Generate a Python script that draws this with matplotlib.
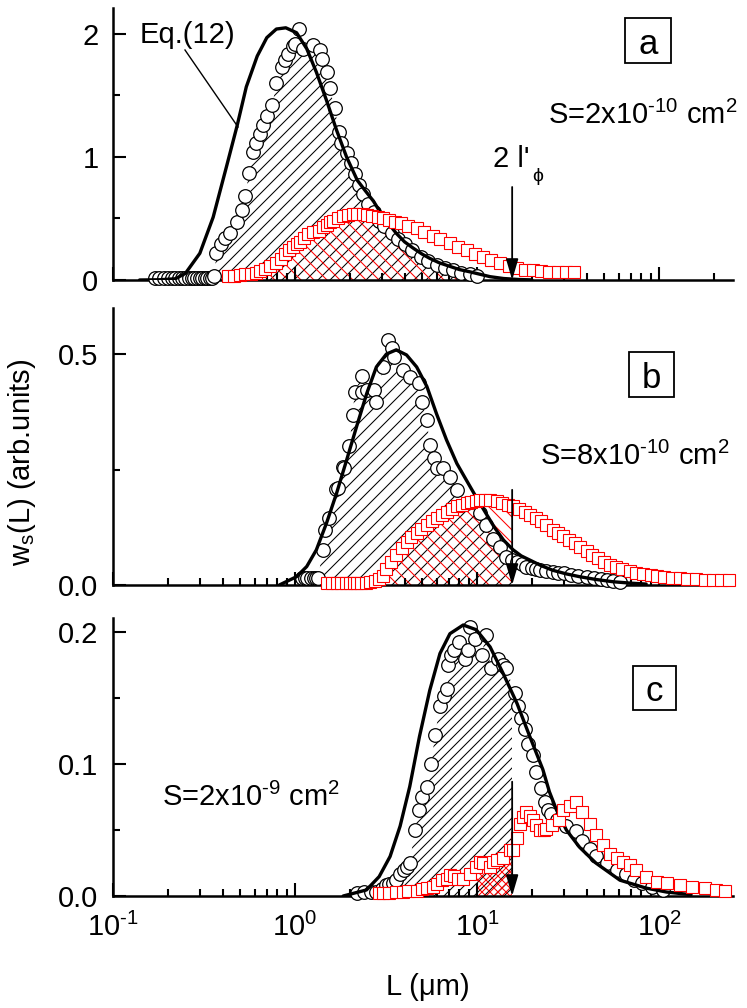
import numpy as np
import matplotlib
matplotlib.use('Agg')
import matplotlib.pyplot as plt
from matplotlib.patches import Rectangle
from matplotlib.lines import Line2D
from matplotlib.path import Path
from matplotlib.collections import LineCollection
from matplotlib.transforms import IdentityTransform, Bbox, TransformedBbox
from matplotlib.ticker import MultipleLocator, LogLocator, NullFormatter, FuncFormatter

plt.rcParams['font.family'] = ['Liberation Sans', 'DejaVu Sans']
plt.rcParams['mathtext.fontset'] = 'custom'
plt.rcParams['mathtext.rm'] = 'Liberation Sans'
plt.rcParams['mathtext.it'] = 'Liberation Sans:italic'
plt.rcParams['mathtext.default'] = 'regular'

# ---------------- data ----------------
L_arrow = 15.6  # 2 l'_phi position (um)

a_circ_L = [0.17, 0.18, 0.19, 0.20, 0.21, 0.22, 0.23, 0.24, 0.25, 0.26, 0.27, 0.28, 0.29, 0.30, 0.31, 0.32, 0.33, 0.34, 0.35, 0.36,
            0.37, 0.39, 0.41, 0.44, 0.48, 0.51, 0.53, 0.56, 0.59, 0.61, 0.64, 0.67, 0.70, 0.75, 0.79, 0.85, 0.88, 0.92, 0.97, 1.00,
            1.05, 1.10, 1.26, 1.38, 1.41, 1.49, 1.55, 1.65, 1.75, 1.80, 1.92, 2.02, 2.13, 2.25, 2.37, 2.53, 2.70, 2.90, 3.10, 3.40,
            3.70, 4.00, 4.40, 4.90, 5.40, 6.00, 6.70, 7.40, 8.20, 9.10, 10.0]
a_circ_v = [0.02, 0.02, 0.02, 0.02, 0.02, 0.02, 0.02, 0.02, 0.02, 0.02, 0.02, 0.02, 0.02, 0.02, 0.02, 0.02, 0.02, 0.02, 0.02, 0.03,
            0.22, 0.29, 0.34, 0.38, 0.47, 0.57, 0.68, 0.87, 1.04, 1.11, 1.19, 1.26, 1.33, 1.42, 1.60, 1.73, 1.79, 1.84, 1.90, 1.92,
            2.04, 1.88, 1.91, 1.87, 1.80, 1.69, 1.56, 1.40, 1.20, 1.11, 1.03, 0.95, 0.86, 0.77, 0.70, 0.62, 0.55, 0.48, 0.44, 0.38,
            0.33, 0.29, 0.24, 0.19, 0.155, 0.125, 0.10, 0.08, 0.06, 0.045, 0.03]
a_curve_L = [0.14, 0.18, 0.22, 0.25, 0.30, 0.355, 0.42, 0.48, 0.54, 0.62, 0.70, 0.79, 0.89, 1.02, 1.16, 1.31, 1.49, 1.69, 1.92,
             2.20, 2.45, 2.70, 2.93, 3.30, 3.60, 4.00, 4.45, 5.00, 5.50, 6.20, 6.80, 8.00, 9.10, 10.5, 11.8, 14.0, 17.0, 20.0]
a_curve_v = [0.0, 0.002, 0.01, 0.054, 0.217, 0.51, 0.92, 1.25, 1.57, 1.82, 1.97, 2.04, 2.05, 2.01, 1.88, 1.69, 1.46, 1.22, 1.00,
             0.81, 0.72, 0.64, 0.555, 0.45, 0.38, 0.31, 0.26, 0.21, 0.176, 0.14, 0.12, 0.085, 0.067, 0.045, 0.027, 0.012, 0.004, 0.001]
a_sq_L = [0.43, 0.46, 0.50, 0.53, 0.57, 0.61, 0.64, 0.68, 0.73, 0.79, 0.84, 0.88, 0.93, 0.98, 1.02, 1.06, 1.12, 1.18, 1.26, 1.35,
          1.42, 1.49, 1.55, 1.62, 1.72, 1.84, 1.95, 2.08, 2.20, 2.35, 2.48, 2.65, 2.85, 3.05, 3.30, 3.55, 3.80, 4.20, 4.66, 5.10,
          5.70, 6.30, 7.10, 7.90, 8.80, 9.80, 10.8, 12.0, 13.4, 15.0, 16.6, 18.3, 20.3, 22.5, 25.0, 28.0, 31.0, 34.0]
a_sq_v = [0.03, 0.035, 0.04, 0.045, 0.05, 0.06, 0.07, 0.09, 0.11, 0.135, 0.17, 0.21, 0.24, 0.27, 0.29, 0.31, 0.34, 0.37, 0.39, 0.40,
          0.43, 0.45, 0.47, 0.48, 0.50, 0.52, 0.53, 0.54, 0.54, 0.535, 0.53, 0.52, 0.51, 0.50, 0.49, 0.47, 0.46, 0.44, 0.42, 0.39,
          0.36, 0.33, 0.30, 0.27, 0.24, 0.21, 0.185, 0.16, 0.135, 0.11, 0.095, 0.085, 0.078, 0.072, 0.068, 0.067, 0.066, 0.065]

b_circ_L = [1.09, 1.13, 1.17, 1.22, 1.27, 1.31, 1.34, 1.42, 1.47, 1.53, 1.67, 1.73, 1.84, 1.87, 1.99, 2.07, 2.13, 2.32, 2.33, 2.48,
            2.70, 2.80, 3.05, 3.25, 3.39, 3.50, 3.90, 4.30, 4.78, 5.00, 5.30, 5.50, 5.80, 6.00, 6.50, 7.10, 7.75, 8.80, 10.4, 11.2,
            12.2, 13.4, 14.5, 15.5, 16.6, 17.6, 18.7, 20.0, 21.0, 22.3, 24.0, 26.0, 28.0, 30.0, 33.0, 36.0, 40.0, 44.0, 48.0, 52.0,
            56.0, 61.0]
b_circ_v = [0.015, 0.015, 0.015, 0.015, 0.015, 0.015, 0.015, 0.076, 0.119, 0.144, 0.207, 0.209, 0.256, 0.253, 0.300, 0.368, 0.418,
            0.452, 0.418, 0.422, 0.422, 0.397, 0.472, 0.530, 0.512, 0.494, 0.465, 0.450, 0.437, 0.397, 0.357, 0.303, 0.274, 0.253,
            0.253, 0.234, 0.206, 0.177, 0.155, 0.130, 0.100, 0.083, 0.061, 0.055, 0.050, 0.045, 0.040, 0.036, 0.034, 0.032, 0.030,
            0.029, 0.027, 0.025, 0.022, 0.020, 0.018, 0.015, 0.013, 0.011, 0.009, 0.007]
b_curve_L = [0.82, 1.02, 1.16, 1.31, 1.49, 1.69, 1.92, 2.18, 2.48, 2.80, 3.18, 3.60, 4.10, 4.66, 5.30, 6.00, 6.80, 7.75, 8.80, 9.90,
             11.2, 12.5, 14.0, 15.8, 17.5, 19.5, 22.5, 26.0, 31.0, 36.6, 45.0, 56.0, 70.0, 85.0]
b_curve_v = [0.0, 0.018, 0.040, 0.076, 0.134, 0.198, 0.270, 0.343, 0.415, 0.472, 0.500, 0.509, 0.498, 0.472, 0.430, 0.370, 0.314,
             0.263, 0.225, 0.190, 0.155, 0.124, 0.097, 0.076, 0.063, 0.054, 0.042, 0.032, 0.024, 0.018, 0.012, 0.007, 0.004, 0.002]
b_sq_L = [1.49, 1.60, 1.70, 1.80, 1.90, 2.00, 2.10, 2.20, 2.30, 2.45, 2.58, 2.75, 2.90, 3.05, 3.18, 3.35, 3.60, 3.85, 4.10, 4.35,
          4.66, 4.95, 5.30, 5.65, 6.00, 6.40, 6.80, 7.25, 7.75, 8.25, 8.80, 9.30, 9.90, 10.4, 11.0, 11.8, 12.8, 13.8, 14.8, 15.8,
          17.0, 18.3, 19.5, 21.0, 22.5, 24.0, 26.0, 27.8, 29.7, 32.0, 34.5, 36.6, 40.0, 43.0, 46.0, 50.0, 54.0, 58.0, 63.0, 69.0,
          75.0, 82.0, 90.0, 98.0, 107, 118, 130, 143, 160, 178, 197, 218, 242]
b_sq_v = [0.004, 0.004, 0.004, 0.004, 0.004, 0.004, 0.004, 0.004, 0.004, 0.005, 0.006, 0.008, 0.012, 0.020, 0.035, 0.050, 0.065,
          0.080, 0.092, 0.103, 0.113, 0.122, 0.130, 0.138, 0.145, 0.152, 0.159, 0.165, 0.170, 0.174, 0.178, 0.180, 0.182, 0.183,
          0.183, 0.183, 0.181, 0.178, 0.174, 0.170, 0.164, 0.158, 0.152, 0.145, 0.138, 0.130, 0.120, 0.113, 0.106, 0.097, 0.090,
          0.083, 0.074, 0.066, 0.058, 0.050, 0.044, 0.039, 0.034, 0.030, 0.027, 0.024, 0.022, 0.020, 0.018, 0.016, 0.015, 0.013,
          0.012, 0.011, 0.011, 0.011, 0.011]

c_circ_L = [2.20, 2.40, 2.60, 2.80, 3.00, 3.18, 3.30, 3.45, 3.60, 3.78, 3.95, 4.10, 4.27, 4.55, 4.78, 5.00, 5.30, 5.60, 5.87, 6.26,
            6.60, 6.86, 6.95, 7.20, 7.50, 7.97, 8.60, 8.90, 9.14, 9.80, 10.6, 11.2, 11.9, 13.1, 13.9, 14.5, 16.1, 16.9, 17.5, 18.3,
            19.0, 20.3, 21.2, 22.5, 23.5, 24.5, 25.5, 27.4, 31.0, 35.0, 37.9, 41.8, 45.0, 51.7, 58.5, 66.0, 73.0, 81.0, 92.0, 105]
c_circ_v = [0.002, 0.003, 0.003, 0.003, 0.005, 0.008, 0.009, 0.010, 0.012, 0.017, 0.020, 0.022, 0.025, 0.050, 0.065, 0.075, 0.083,
            0.100, 0.122, 0.144, 0.152, 0.157, 0.175, 0.183, 0.187, 0.193, 0.180, 0.187, 0.204, 0.195, 0.183, 0.198, 0.173, 0.180,
            0.175, 0.173, 0.154, 0.144, 0.135, 0.127, 0.115, 0.107, 0.094, 0.082, 0.071, 0.065, 0.062, 0.058, 0.053, 0.049, 0.042,
            0.036, 0.030, 0.025, 0.020, 0.017, 0.012, 0.0096, 0.007, 0.0046]
c_curve_L = [1.84, 2.47, 2.90, 3.33, 3.78, 4.27, 4.83, 5.50, 6.26, 7.10, 8.40, 9.90, 11.8, 13.9, 16.6, 19.5, 23.0, 25.0, 27.4, 31.0,
             36.6, 45.0, 61.0, 85.0, 110, 150]
c_curve_v = [0.0, 0.0046, 0.0147, 0.030, 0.053, 0.083, 0.121, 0.156, 0.184, 0.199, 0.2056, 0.202, 0.189, 0.169, 0.146, 0.121, 0.096,
             0.079, 0.065, 0.050, 0.037, 0.025, 0.012, 0.006, 0.003, 0.001]
c_sq_L = [2.90, 3.05, 3.30, 3.60, 3.90, 4.20, 4.66, 5.00, 5.30, 5.70, 6.00, 6.40, 6.80, 7.10, 7.50, 7.90, 8.40, 9.14, 9.90, 10.4,
          10.8, 11.8, 12.2, 12.8, 13.9, 15.2, 15.8, 16.6, 17.2, 18.0, 18.7, 19.5, 20.3, 21.2, 22.3, 23.2, 24.0, 25.9, 28.3, 29.7,
          32.5, 35.0, 37.9, 41.8, 45.0, 49.4, 53.6, 58.5, 63.4, 69.0, 75.0, 85.0, 97.0, 110, 130, 152, 180, 205, 230]
c_sq_v = [0.002, 0.002, 0.002, 0.003, 0.003, 0.004, 0.004, 0.005, 0.006, 0.007, 0.009, 0.012, 0.013, 0.016, 0.015, 0.013, 0.013,
          0.017, 0.022, 0.026, 0.025, 0.022, 0.026, 0.027, 0.0285, 0.035, 0.035, 0.044, 0.055, 0.060, 0.064, 0.061, 0.058, 0.054,
          0.050, 0.050, 0.051, 0.054, 0.058, 0.065, 0.068, 0.071, 0.064, 0.055, 0.046, 0.039, 0.032, 0.0286, 0.026, 0.0235, 0.020,
          0.0147, 0.011, 0.0096, 0.0083, 0.007, 0.006, 0.0046, 0.004]

x_lim = (0.1, 255)
panel_letters = ['a', 'b', 'c']
HY = '\u2010'
panel_S = ['S=2x10$^{' + HY + '10}$ cm$^2$', 'S=8x10$^{' + HY + '10}$ cm$^2$', 'S=2x10$^{' + HY + '9}$ cm$^2$']

# ---------------- layout (pixels) ----------------
W, H = 747, 1008
fig = plt.figure(figsize=(W / 100, H / 100), dpi=100)


def fx(x):
    return x / W


def fy(y):
    return 1 - y / H


def hatch_lines(ax, clip_path, clip_trans, spacing, direction, color, lw=0.75, clip_x=None):
    """Diagonal hatch lines in display pixels, clipped to a region."""
    segs = []
    for c in np.arange(-H - 50, W + H + 50, spacing):
        if direction > 0:
            segs.append([(c, 0), (c + H, H)])
        else:
            segs.append([(c, H), (c + H, 0)])
    lc = LineCollection(segs, colors=color, linewidths=lw, transform=IdentityTransform(), zorder=1)
    ax.add_collection(lc, autolim=False)
    lc.set_clip_path(clip_path, clip_trans)
    if clip_x is not None:
        lc.set_clip_box(TransformedBbox(Bbox([[clip_x[0], -1.0], [clip_x[1], 10.0]]), ax.transData))
    return lc


def log_formatter(v, pos):
    e = int(round(np.log10(v)))
    return '10$^{' + str(e).replace('-', HY) + '}$'


X0, X1 = 113, 733
ax_rows = [(8, 280, 2.211, 1.0, 0.5), (308, 585, 0.5996, 0.5, 0.25), (618, 896, 0.2109, 0.1, 0.05)]
arrow_top = [0.756, 0.206, 0.0867]
hatch_black = [12, 13, 10]
hatch_red = [13, 13, 8]

data = [
    (a_circ_L, a_circ_v, a_curve_L, a_curve_v, a_sq_L, a_sq_v),
    (b_circ_L, b_circ_v, b_curve_L, b_curve_v, b_sq_L, b_sq_v),
    (c_circ_L, c_circ_v, c_curve_L, c_curve_v, c_sq_L, c_sq_v),
]

for i, (top, bot, ymax, maj, mnr) in enumerate(ax_rows):
    ax = fig.add_axes([fx(X0), fy(bot), (X1 - X0) / W, (bot - top) / H])
    ax.set_xscale('log')
    ax.set_xlim(*x_lim)
    ax.set_ylim(0, ymax)
    for s in ['top', 'right']:
        ax.spines[s].set_visible(False)
    for s in ['left', 'bottom']:
        ax.spines[s].set_linewidth(1.8)
    ax.yaxis.set_major_locator(MultipleLocator(maj))
    ax.yaxis.set_minor_locator(MultipleLocator(mnr))
    ax.xaxis.set_major_locator(LogLocator(base=10, numticks=10))
    ax.xaxis.set_minor_locator(LogLocator(base=10, subs=range(2, 10), numticks=20))
    ax.xaxis.set_major_formatter(FuncFormatter(log_formatter))
    ax.xaxis.set_minor_formatter(NullFormatter())
    ax.tick_params(which='both', direction='in', top=False, right=False, width=1.5, labelsize=21)
    ax.tick_params(which='major', length=9.5)
    ax.tick_params(which='minor', length=4.8)
    ax.tick_params(axis='y', pad=10.5)
    ax.tick_params(axis='x', pad=12)
    if i < 2:
        ax.tick_params(axis='x', labelbottom=False)

    cL, cv, kL, kv, sL, sv = data[i]

    # regions under the circle and square data (invisible, used as hatch clip shapes)
    circ_region = ax.fill_between(cL, 0, cv, facecolor='none', edgecolor='none', linewidth=0)
    sq_region = ax.fill_between(sL, 0, sv, facecolor='none', edgecolor='none', linewidth=0)
    circ_path = circ_region.get_paths()[0]
    sq_path = sq_region.get_paths()[0]

    if i == 0:
        hatch_lines(ax, circ_path, ax.transData, hatch_black[i], +1, 'black')
        # overlap of both distributions (lower envelope), in log-L
        lc_, ls_ = np.log10(cL), np.log10(sL)
        g = np.unique(np.concatenate([lc_, ls_]))
        g = g[(g >= max(lc_.min(), ls_.min())) & (g <= min(lc_.max(), ls_.max()))]
        env = np.minimum(np.interp(g, lc_, cv), np.interp(g, ls_, sv))
        verts = [(10 ** g[0], 0)] + list(zip(10 ** g, env)) + [(10 ** g[-1], 0), (10 ** g[0], 0)]
        overlap = Path(verts, closed=True)
        hatch_lines(ax, overlap, ax.transData, hatch_red[i], -1, 'red')
    elif i == 1:
        hatch_lines(ax, circ_path, ax.transData, hatch_black[i], +1, 'black', clip_x=(0.05, L_arrow))
        hatch_lines(ax, sq_path, ax.transData, hatch_red[i], -1, 'red', clip_x=(0.05, L_arrow))
    else:
        hatch_lines(ax, circ_path, ax.transData, hatch_black[i], +1, 'black', clip_x=(0.05, L_arrow))
        hatch_lines(ax, sq_path, ax.transData, hatch_red[i], -1, 'red', clip_x=(10.0, L_arrow))
        hatch_lines(ax, sq_path, ax.transData, hatch_red[i], +1, 'red', clip_x=(10.0, L_arrow))

    ax.plot(cL, cv, 'o', ms=9.8, mfc='white', mec='black', mew=0.9, ls='none', zorder=3, clip_on=False)
    ax.plot(kL, kv, '-', color='black', lw=2.4, zorder=4, solid_capstyle='round')
    ax.plot(sL, sv, 's', ms=9.3, mfc='white', mec='red', mew=0.8, ls='none', zorder=5, clip_on=False)

    ax.annotate('', xy=(L_arrow, 0.0), xytext=(L_arrow, arrow_top[i]),
                arrowprops=dict(arrowstyle='-|>,head_length=0.85,head_width=0.25', color='black',
                                lw=1.3, shrinkA=0, shrinkB=0, mutation_scale=15), zorder=6)

# panel letter boxes
boxes = [(625, 18, 671, 63), (629, 352, 674, 397), (633, 666, 676, 710)]
for letter, (x0, y0, x1, y1) in zip(panel_letters, boxes):
    fig.add_artist(Rectangle((fx(x0), fy(y1)), (x1 - x0) / W, (y1 - y0) / H,
                             transform=fig.transFigure, fill=False, lw=1.3, edgecolor='black'))
    fig.text(fx((x0 + x1) / 2), fy(y1 - 9), letter, fontsize=25, ha='center', va='baseline')

# S labels
fig.text(fx(548), fy(124), panel_S[0], fontsize=21, ha='left', va='baseline')
fig.text(fx(540), fy(465), panel_S[1], fontsize=21, ha='left', va='baseline')
fig.text(fx(162), fy(806), panel_S[2], fontsize=21, ha='left', va='baseline')

# Eq.(12) label + leader line
fig.text(fx(140), fy(43), 'Eq.(12)', fontsize=21, ha='left', va='baseline')
fig.add_artist(Line2D([fx(185), fx(238)], [fy(50), fy(127)], transform=fig.transFigure,
                      color='black', lw=1.0))

# 2 l'_phi label
fig.text(fx(493), fy(167), "2 l'", fontsize=21, ha='left', va='baseline')
fig.text(fx(532), fy(181), '\u03d5', fontsize=14, ha='left', va='baseline')

# axis labels
fig.text(fx(22), fy(462), 'w$_s$(L) (arb.units)', fontsize=21, rotation=90, ha='center', va='center')
fig.text(fx(428), fy(987), 'L (\u03bcm)', fontsize=21, ha='center', va='center')

fig.savefig('out.png', dpi=100)
